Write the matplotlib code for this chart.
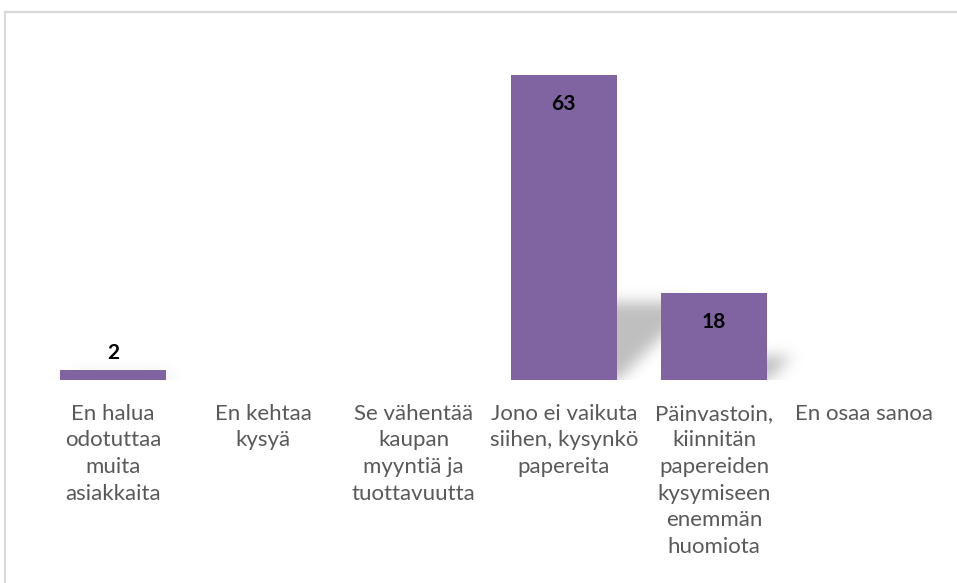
import numpy as np
import matplotlib.pyplot as plt

categories = ["En halua\nodotuttaa\nmuita\nasiakkaita",
              "En kehtaa\nkysyä",
              "Se vähentää\nkaupan\nmyyntiä ja\ntuottavuutta",
              "Jono ei vaikuta\nsiihen, kysynkö\npapereita",
              "Päinvastoin,\nkiinnitän\npapereiden\nkysymiseen\nenemmän\nhuomiota",
              "En osaa sanoa"]
values = [2, 0, 0, 63, 18, 0]

bar_color = "#8064A2"
W, H = 957, 583

fig = plt.figure(figsize=(W / 100, H / 100), dpi=100)
ax_l, ax_r, ax_b, ax_t = 38, 939.5, 380, 41
ax = fig.add_axes([ax_l / W, (H - ax_b) / H, (ax_r - ax_l) / W, (ax_b - ax_t) / H])

x = np.arange(len(categories))
width = 0.71
xlim = (-0.5, len(categories) - 0.5)
ylim = (0, 70)

# perspective shadow: sheared, flattened copy of each bar, blurred
px_x = (ax_r - ax_l) / (xlim[1] - xlim[0])
px_y = (ax_b - ax_t) / (ylim[1] - ylim[0])
ny, nx = int(ax_b - ax_t) + 20, int(ax_r - ax_l)
gx = np.arange(nx)[None, :] + 0.5
gy = np.arange(ny)[:, None] - 10 + 0.5          # pixels above baseline
mask = np.zeros((ny, nx))
for xi, v in zip(x, values):
    if v <= 0:
        continue
    left = (xi - width / 2 - xlim[0]) * px_x
    right = (xi + width / 2 - xlim[0]) * px_x
    h = 0.25 * v * px_y + 2
    shift = 1.0 * np.clip(gy, 0, None)
    inside = (gy >= 0) & (gy <= h) & (gx >= left + 12 + shift) & (gx <= right + shift)
    mask[inside] = 1.0
sig = 7.0
k = np.exp(-0.5 * (np.arange(-21, 22) / sig) ** 2)
k /= k.sum()
mask = np.apply_along_axis(lambda r: np.convolve(r, k, mode="same"), 1, mask)
mask = np.apply_along_axis(lambda c: np.convolve(c, k, mode="same"), 0, mask)
img = np.zeros((ny, nx, 4))
img[..., :3] = 0.5
img[..., 3] = 0.5 * mask
ax.imshow(img, origin="lower", aspect="auto", interpolation="bilinear", zorder=1,
          extent=(xlim[0], xlim[1], -10 / px_y, (ny - 10) / px_y))

bars = ax.bar(x, values, width=width, color=bar_color, zorder=3)

for xi, v in zip(x, values):
    if v <= 0:
        continue
    if v < 5:
        ax.text(xi, v + 3.6, str(v), ha="center", va="center",
                fontsize=15, fontweight="bold", family="Lato", color="black", zorder=4)
    else:
        ax.text(xi, v - 6.0, str(v), ha="center", va="center",
                fontsize=15, fontweight="bold", family="Lato", color="black", zorder=4)

ax.set_xlim(*xlim)
ax.set_ylim(*ylim)
ax.set_xticks(x)
ax.set_xticklabels(categories, fontsize=16, family="Lato", color="#595959",
                   linespacing=1.42, va="top")
ax.tick_params(axis="x", length=0, pad=17)
ax.set_yticks([])
for s in ax.spines.values():
    s.set_visible(False)

# chart frame (top and left edges visible)
fig.add_artist(plt.Line2D([4.5 / W, 4.5 / W], [0, 1 - 11.5 / H],
                          transform=fig.transFigure, color="#d9d9d9", lw=1.5))
fig.add_artist(plt.Line2D([4.5 / W, 1], [1 - 11.5 / H, 1 - 11.5 / H],
                          transform=fig.transFigure, color="#d9d9d9", lw=1.5))

fig.savefig("out.png", dpi=100)
